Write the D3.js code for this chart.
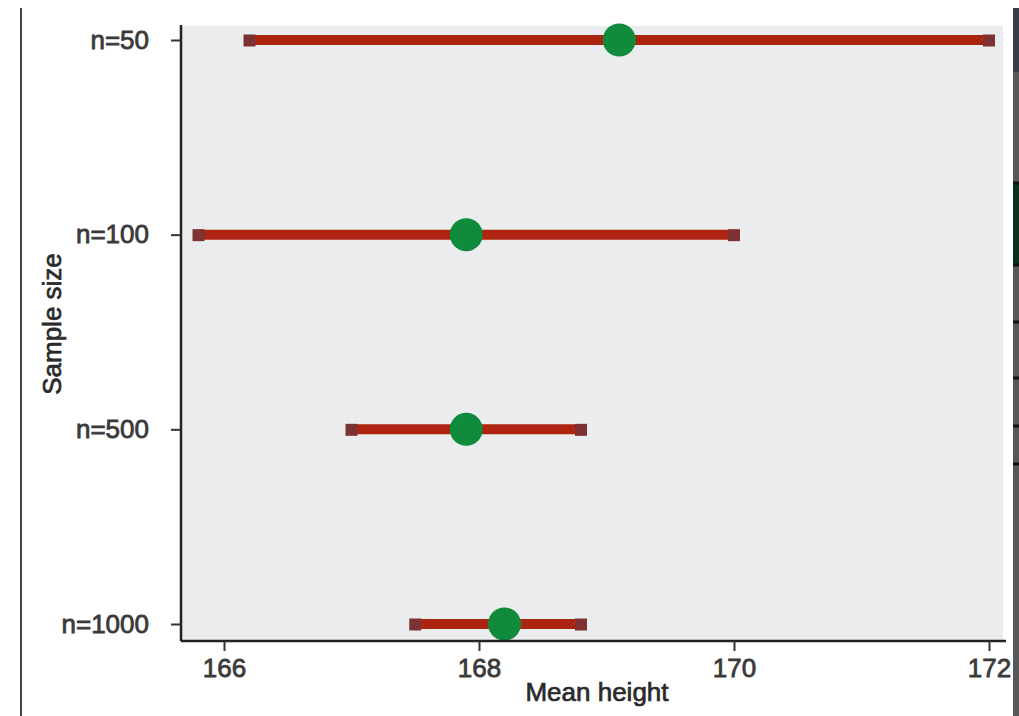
<!DOCTYPE html>
<html>
<head>
<meta charset="utf-8">
<script src="https://cdn.jsdelivr.net/npm/d3@7/dist/d3.min.js"></script>
<style>
  html, body { margin: 0; padding: 0; background: #ffffff; }
  svg { display: block; font-family: "Liberation Sans", Arial, sans-serif; }
</style>
</head>
<body>
<svg id="chart" width="1019" height="716"></svg>
<script>
// Sample sizes and the estimated mean height with its interval
const sampleSizes = ["n=50", "n=100", "n=500", "n=1000"];
const meanHeight  = [169.1, 167.9, 167.9, 168.2];
const lowerBound  = [166.2, 165.8, 167.0, 167.5];
const upperBound  = [172.0, 170.0, 168.8, 168.8];
const xTicks      = [166, 168, 170, 172];

const rows = sampleSizes.map((s, i) => ({
  size: s, mean: meanHeight[i], lo: lowerBound[i], hi: upperBound[i]
}));

const svg = d3.select("#chart");

const panel = { left: 181, right: 1004, top: 26, bottom: 641 };

const x = d3.scaleLinear().domain([166, 172]).range([224, 989]);
const y = d3.scalePoint().domain(sampleSizes).range([40, 624]);

// window edge decorations around the plot
svg.append("line")
  .attr("x1", 21).attr("x2", 21).attr("y1", 8).attr("y2", 716)
  .attr("stroke", "#444").attr("stroke-width", 2);

const edge = svg.append("g");
edge.append("rect").attr("x", 1013).attr("y", 8).attr("width", 6).attr("height", 708).attr("fill", "#575757");
edge.append("rect").attr("x", 1013).attr("y", 8).attr("width", 6).attr("height", 64).attr("fill", "#383e48");
edge.append("rect").attr("x", 1013).attr("y", 183).attr("width", 6).attr("height", 82).attr("fill", "#0b3019");
[183, 265, 322, 378, 426, 464].forEach(v => {
  edge.append("rect").attr("x", 1013).attr("y", v - 1.5).attr("width", 6).attr("height", 3).attr("fill", "#111");
});

// plot panel
svg.append("rect")
  .attr("x", panel.left).attr("y", panel.top)
  .attr("width", 1003 - panel.left).attr("height", panel.bottom - panel.top)
  .attr("fill", "#ebecee");

// interval bars
const g = svg.append("g");
g.selectAll("line.bar").data(rows).join("line")
  .attr("class", "bar")
  .attr("x1", d => x(d.lo)).attr("x2", d => x(d.hi))
  .attr("y1", d => y(d.size)).attr("y2", d => y(d.size))
  .attr("stroke", "#ad2411").attr("stroke-width", 10);

// end caps
const caps = rows.flatMap(d => [{ v: d.lo, size: d.size }, { v: d.hi, size: d.size }]);
g.selectAll("rect.cap").data(caps).join("rect")
  .attr("class", "cap")
  .attr("x", d => x(d.v) - 6).attr("y", d => y(d.size) - 5.5)
  .attr("width", 12).attr("height", 12)
  .attr("fill", "#7c3232");

// mean points
g.selectAll("circle").data(rows).join("circle")
  .attr("cx", d => x(d.mean)).attr("cy", d => y(d.size))
  .attr("r", 16.5)
  .attr("fill", "#0f8b3b");

// x axis
const xAxis = svg.append("g").attr("transform", `translate(0,${panel.bottom})`)
  .call(d3.axisBottom(x).tickValues(xTicks).tickFormat(d3.format("d")).tickSize(10).tickPadding(8));
xAxis.select(".domain").attr("d", `M${panel.left},0H1006`).attr("stroke", "#222").attr("stroke-width", 2.5);
xAxis.selectAll(".tick line").attr("stroke", "#333").attr("stroke-width", 2);
xAxis.selectAll(".tick text")
  .attr("font-size", 26).attr("fill", "#3a3a3a")
  .attr("font-family", "Liberation Sans, Arial, sans-serif")
  .attr("stroke", "#3a3a3a").attr("stroke-width", 0.8);

// y axis
const yAxis = svg.append("g").attr("transform", `translate(${panel.left},0)`)
  .call(d3.axisLeft(y).tickSize(10).tickPadding(22));
yAxis.select(".domain").attr("d", `M0,${panel.top - 1}V${panel.bottom}`).attr("stroke", "#222").attr("stroke-width", 2.5);
yAxis.selectAll(".tick line").attr("stroke", "#333").attr("stroke-width", 2);
yAxis.selectAll(".tick text")
  .attr("font-size", 26).attr("fill", "#3a3a3a")
  .attr("font-family", "Liberation Sans, Arial, sans-serif")
  .attr("stroke", "#3a3a3a").attr("stroke-width", 0.8);

// axis titles
svg.append("text")
  .attr("x", 597).attr("y", 701)
  .attr("text-anchor", "middle")
  .attr("font-size", 26).attr("fill", "#2a2a2a")
  .attr("stroke", "#2a2a2a").attr("stroke-width", 0.7)
  .text("Mean height");

svg.append("text")
  .attr("transform", "translate(61,324) rotate(-90)")
  .attr("text-anchor", "middle")
  .attr("font-size", 26).attr("fill", "#2a2a2a")
  .attr("stroke", "#2a2a2a").attr("stroke-width", 0.7)
  .text("Sample size");
</script>
</body>
</html>
